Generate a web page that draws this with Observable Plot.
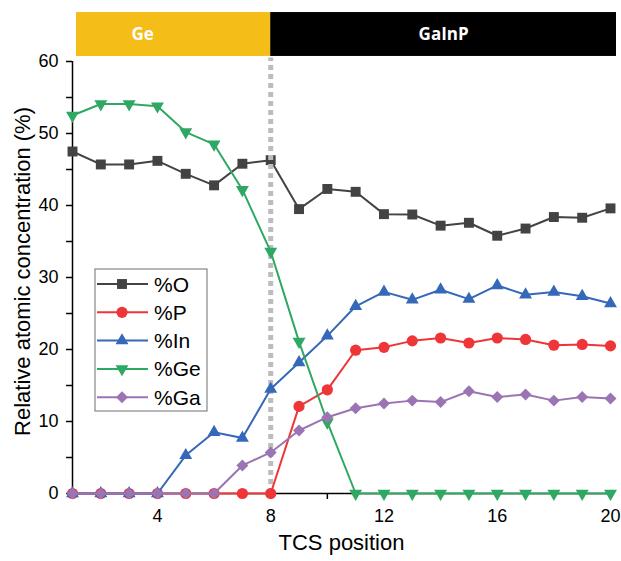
<!DOCTYPE html>
<html>
<head>
<meta charset="utf-8">
<script src="https://cdn.jsdelivr.net/npm/d3@7"></script>
<script src="https://cdn.jsdelivr.net/npm/@observablehq/plot@0.6"></script>
<style>
  html, body { margin: 0; padding: 0; background: #fff; }
  #chart { width: 621px; height: 561px; }
</style>
</head>
<body>
<div id="chart"></div>
<script>
// ---- data ----
const positions = [1, 2, 3, 4, 5, 6, 7, 8, 9, 10, 11, 12, 13, 14, 15, 16, 17, 18, 19, 20];
const seriesNames = ["%O", "%P", "%In", "%Ge", "%Ga"];
const valuesO  = [47.5, 45.7, 45.7, 46.2, 44.4, 42.8, 45.8, 46.3, 39.5, 42.3, 41.9, 38.8, 38.75, 37.2, 37.6, 35.8, 36.8, 38.4, 38.3, 39.6];
const valuesP  = [0, 0, 0, 0, 0, 0, 0, 0, 12.1, 14.4, 19.9, 20.3, 21.2, 21.6, 20.9, 21.6, 21.4, 20.6, 20.7, 20.5];
const valuesIn = [0, 0, 0, 0, 5.3, 8.5, 7.7, 14.5, 18.2, 21.9, 26.0, 28.0, 26.9, 28.3, 27.0, 28.9, 27.6, 28.0, 27.4, 26.4];
const valuesGe = [52.5, 54.1, 54.1, 53.8, 50.2, 48.5, 42.2, 33.6, 21.1, 9.9, 0, 0, 0, 0, 0, 0, 0, 0, 0, 0];
const valuesGa = [0, 0, 0, 0, 0, 0, 3.9, 5.7, 8.75, 10.6, 11.85, 12.5, 12.9, 12.7, 14.2, 13.4, 13.75, 12.9, 13.4, 13.2];
const regionLabels = ["Ge", "GaInP"];
const regionStart = [1, 8];
const regionEnd = [8, 20];
const interfacePosition = [8];
const xTicks = [2, 4, 6, 8, 10, 12, 14, 16, 18, 20];
const yTicks = [0, 5, 10, 15, 20, 25, 30, 35, 40, 45, 50, 55, 60];
const xLabel = "TCS position";
const yLabel = "Relative atomic concentration (%)";

// ---- styling ----
const colors = { "%O": "#434343", "%P": "#ee3538", "%In": "#3568b8", "%Ge": "#2ea862", "%Ga": "#9b74b3" };
const triangleDown = {
  draw(context, size) {
    const y = Math.sqrt(size / (Math.sqrt(3) * 3));
    context.moveTo(0, 2 * y);
    context.lineTo(-Math.sqrt(3) * y, -y);
    context.lineTo(Math.sqrt(3) * y, -y);
    context.closePath();
  }
};
const symbols = { "%O": "square", "%P": "circle", "%In": "triangle", "%Ge": triangleDown, "%Ga": "diamond2" };
const radii = { "%O": 5.6, "%P": 5.6, "%In": 4.8, "%Ge": 4.8, "%Ga": 5.4 };
const d3Symbols = { "square": d3.symbolSquare, "circle": d3.symbolCircle, "triangle": d3.symbolTriangle, "diamond2": d3.symbolDiamond2 };

const valueArrays = [valuesO, valuesP, valuesIn, valuesGe, valuesGa];
const rows = [];
seriesNames.forEach((s, i) => positions.forEach((p, j) => rows.push({ series: s, x: p, y: valueArrays[i][j] })));
const regions = regionLabels.map((l, i) => ({ label: l, x1: regionStart[i], x2: regionEnd[i] }));

function seriesMarks(name) {
  const data = rows.filter(d => d.series === name);
  return [
    Plot.line(data, { x: "x", y: "y", stroke: colors[name], strokeWidth: 2 }),
    Plot.dot(data, { x: "x", y: "y", symbol: symbols[name], r: radii[name], fill: colors[name], stroke: "none" })
  ];
}

const font = "'Liberation Sans', Arial, sans-serif";
const svg = Plot.plot({
  width: 621,
  height: 561,
  marginLeft: 72,
  marginRight: 11,
  marginTop: 61,
  marginBottom: 68,
  style: { fontFamily: font, fontSize: "18px", background: "#fff", color: "#000", overflow: "visible" },
  x: { domain: [1, 20] },
  y: { domain: [0, 60] },
  marks: [
    // region bars
    Plot.rect(regions.filter(d => d.label === "Ge"), { x1: "x1", x2: "x2", y1: 60.7, y2: 66.8, fill: "#f4bd18", insetLeft: 4 }),
    Plot.rect(regions.filter(d => d.label === "GaInP"), { x1: "x1", x2: "x2", y1: 60.7, y2: 66.8, fill: "#000", insetRight: -6 }),
    Plot.text(regions.filter(d => d.label === "Ge"), { x: d => (d.x1 + d.x2) / 2, y: 63.75, text: "label", fill: "#fff", fontWeight: "bold", fontSize: 17, fontFamily: "'Open Sans', sans-serif", dx: -29 }),
    Plot.text(regions.filter(d => d.label === "GaInP"), { x: d => (d.x1 + d.x2) / 2, y: 63.75, text: "label", fill: "#fff", fontWeight: "bold", fontSize: 17, fontFamily: "'Open Sans', sans-serif", dx: 3 }),
    // axes
    Plot.axisY({ ticks: yTicks, tickFormat: d => d % 10 === 0 ? d : "", tickSize: 6, tickPadding: 8, label: null, stroke: "#000", strokeWidth: 1.5, fontSize: 18 }),
    Plot.axisX({ ticks: xTicks, tickFormat: d => d % 4 === 0 ? d : "", tickSize: 6, tickPadding: 10, label: null, stroke: "#000", strokeWidth: 1.5, fontSize: 18 }),
    Plot.ruleX([1], { stroke: "#000", strokeWidth: 1.5 }),
    Plot.ruleY([0], { stroke: "#000", strokeWidth: 1.5 }),
    Plot.text([yLabel], { frameAnchor: "left", dx: -50, dy: -6, rotate: -90, textAnchor: "middle", text: d => d, fontSize: 22, fill: "#000" }),
    Plot.text([xLabel], { frameAnchor: "bottom", dy: 56, textAnchor: "middle", text: d => d, fontSize: 22, fill: "#000" }),
    // series
    ...seriesMarks("%O"),
    Plot.ruleX(interfacePosition, { y1: 0, y2: 60.5, stroke: "#bdbdbd", strokeWidth: 5, strokeDasharray: "5,4" }),
    ...seriesMarks("%P"),
    ...seriesMarks("%In"),
    ...seriesMarks("%Ge"),
    ...seriesMarks("%Ga")
  ]
});

// ---- legend (inside plot area, drawn into the same svg) ----
const lg = d3.select(svg).append("g").attr("font-family", font).attr("text-anchor", "start");
const box = { x: 95, y: 269, w: 112, h: 142 };
lg.append("rect").attr("x", box.x).attr("y", box.y).attr("width", box.w).attr("height", box.h)
  .attr("fill", "#fff").attr("stroke", "#6e6e6e").attr("stroke-width", 1);
seriesNames.forEach((s, i) => {
  const cy = 284 + i * 28.3;
  lg.append("line").attr("x1", 97).attr("x2", 148).attr("y1", cy).attr("y2", cy)
    .attr("stroke", colors[s]).attr("stroke-width", 2);
  const sym = typeof symbols[s] === "string" ? d3Symbols[symbols[s]] : symbols[s];
  lg.append("path").attr("d", d3.symbol(sym, radii[s] * radii[s] * Math.PI)())
    .attr("transform", `translate(122,${cy})`).attr("fill", colors[s]);
  lg.append("text").attr("x", 154).attr("y", cy).attr("dy", "0.36em")
    .attr("font-size", 21).attr("fill", "#000").attr("text-anchor", "start").text(s);
});

document.getElementById("chart").appendChild(svg);
</script>
</body>
</html>
